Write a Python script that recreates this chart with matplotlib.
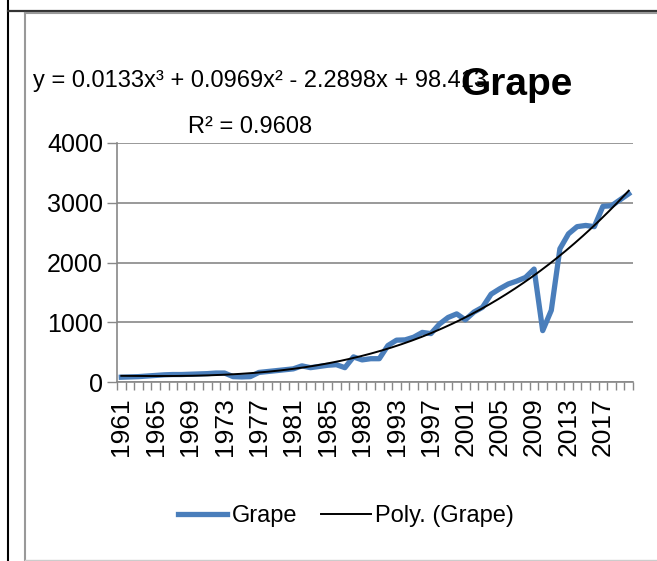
import numpy as np
import matplotlib.pyplot as plt
from matplotlib.lines import Line2D

plt.rcParams['font.family'] = ['Liberation Sans Narrow', 'Liberation Sans', 'DejaVu Sans']

# 数据
years = list(range(1961, 2021))
grape = [80, 85, 90, 100, 110, 120, 125, 125, 130, 135,
         140, 150, 150, 90, 85, 90, 160, 175, 190, 205,
         220, 270, 240, 260, 280, 290, 240, 420, 370, 390,
         390, 610, 700, 705, 750, 830, 810, 970, 1080, 1140,
         1040, 1170, 1250, 1470, 1560, 1640, 1690, 1750, 1890, 860,
         1200, 2230, 2480, 2600, 2620, 2600, 2940, 2950, 3050, 3150]
yticks = [0, 1000, 2000, 3000, 4000]
eq_text = 'y = 0.0133x³ + 0.0969x² - 2.2898x + 98.413'
r2_text = 'R² = 0.9608'

W, H = 657, 561
fig = plt.figure(figsize=(W / 100, H / 100), dpi=100)

# 外框线
def fline(x0, y0, x1, y1, color, lw):
    fig.add_artist(Line2D([x0 / W, x1 / W], [1 - y0 / H, 1 - y1 / H],
                          transform=fig.transFigure, color=color, lw=lw))

fline(7.5, 0, 7.5, H, 'black', 1.5)
fline(7.5, 11, W, 11, '#333333', 1.6)
fline(25, 13, 25, H, '#999999', 1.5)
fline(25, 13, W, 13, '#999999', 1.5)
fline(25, 560, W, 560, '#cccccc', 1.0)

ax = fig.add_axes([117 / W, 1 - 382 / H, 516 / W, 239 / H])
x = np.arange(len(years))
ax.plot(x, grape, color='#4a7ebb', lw=3.8, label='Grape', zorder=3)

# 三次多项式趋势线
coef = np.polyfit(x + 1, grape, 3)
xs = np.linspace(0, len(years) - 1, 300)
ax.plot(xs, np.polyval(coef, xs + 1), color='black', lw=1.4, label='Poly. (Grape)', zorder=4)

ax.set_xlim(-0.5, len(years) - 0.5)
ax.set_ylim(0, 4000)
ax.set_yticks(yticks)
ax.set_xticks(x[::4])
ax.set_xticklabels([str(y) for y in years[::4]], rotation=90, fontsize=19)
ax.set_xticks(np.arange(-0.5, len(years), 1), minor=True)
ax.tick_params(axis='x', which='major', length=0, pad=11)
ax.tick_params(axis='x', which='minor', length=6, color='#888888', width=1)
ax.tick_params(axis='y', length=7, color='#888888', width=1, labelsize=18, pad=3)
ax.yaxis.grid(True, color='#888888', lw=1.2)
ax.set_axisbelow(True)
for s in ['top', 'right']:
    ax.spines[s].set_visible(False)
for s in ['left', 'bottom']:
    ax.spines[s].set_color('#888888')
    ax.spines[s].set_linewidth(1.2)

fig.text(33 / W, 1 - 87 / H, eq_text, fontsize=17, ha='left', va='baseline')
fig.text(250 / W, 1 - 133 / H, r2_text, fontsize=17, ha='center', va='baseline')
fig.text(517 / W, 1 - 95 / H, 'Grape', fontsize=28, fontweight='bold', ha='center', va='baseline',
         zorder=5)

fig.legend(loc='center', bbox_to_anchor=(346 / W, 1 - 516 / H), ncol=2, frameon=False,
           fontsize=17, handlelength=2.1, handletextpad=0.2, columnspacing=1.0)

fig.savefig('out.png', dpi=100)
